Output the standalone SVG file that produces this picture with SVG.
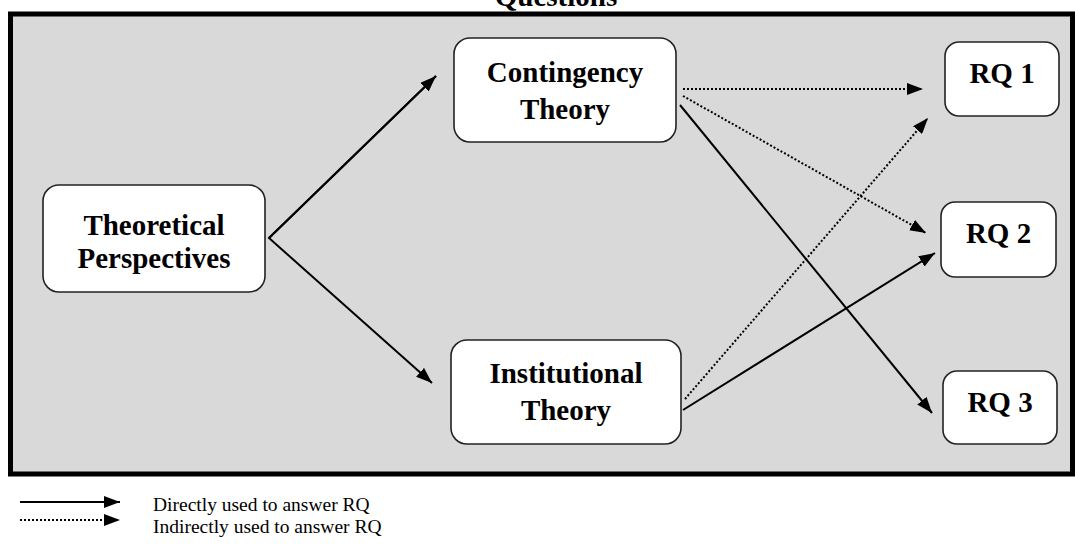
<svg xmlns="http://www.w3.org/2000/svg" width="1075" height="559" viewBox="0 0 1075 559">
  <style>
    .box { fill: #ffffff; stroke: #222222; stroke-width: 1.6; }
    .lbl { font-family: "Liberation Serif", "Times New Roman", serif; font-weight: bold; font-size: 29px; fill: #000000; text-anchor: middle; }
    .leg { font-family: "Liberation Serif", "Times New Roman", serif; font-size: 19.5px; fill: #000000; }
    .solid { stroke: #000000; stroke-width: 2; fill: none; }
    .dot { stroke: #000000; stroke-width: 2; fill: none; stroke-dasharray: 2 2; }
  </style>
  <defs>
    <marker id="head" viewBox="0 0 16 12" refX="16" refY="6" markerWidth="16" markerHeight="12" markerUnits="userSpaceOnUse" orient="auto">
      <path d="M0,0 L16,6 L0,12 Z" fill="#000000"/>
    </marker>
  </defs>

  <rect width="1075" height="559" fill="#ffffff"/>

  <!-- title, clipped at the top edge -->
  <text class="lbl" x="556" y="6">Questions</text>

  <!-- grey frame -->
  <rect x="10.5" y="14" width="1062" height="460" fill="#d9d9d9" stroke="#000000" stroke-width="5"/>

  <!-- connectors -->
  <g id="connectors">
    <polyline class="solid" points="436,76 269,238 432,383" marker-end="url(#head)"/>
    <path class="solid" d="M269,238 L436,76" marker-end="url(#head)"/>
    <path class="dot" d="M683,89 L923,89" marker-end="url(#head)"/>
    <path class="dot" d="M683,96 L926,233" marker-end="url(#head)"/>
    <path class="solid" d="M680,105 L932,413" marker-end="url(#head)"/>
    <path class="dot" d="M685,399 L928,118" marker-end="url(#head)"/>
    <path class="solid" d="M683,410 L935,253" marker-end="url(#head)"/>
  </g>

  <g id="theoretical-perspectives">
    <rect class="box" x="43" y="185" width="222" height="107" rx="16"/>
    <text class="lbl" x="154" y="235">Theoretical</text>
    <text class="lbl" x="154" y="268">Perspectives</text>
  </g>

  <g id="contingency-theory">
    <rect class="box" x="454" y="38" width="222" height="104" rx="16"/>
    <text class="lbl" x="565" y="82">Contingency</text>
    <text class="lbl" x="565" y="119">Theory</text>
  </g>

  <g id="institutional-theory">
    <rect class="box" x="451" y="340" width="230" height="104" rx="16"/>
    <text class="lbl" x="566" y="383">Institutional</text>
    <text class="lbl" x="566" y="420">Theory</text>
  </g>

  <g id="rq1">
    <rect class="box" x="945" y="42" width="114" height="74" rx="14"/>
    <text class="lbl" x="1002" y="83">RQ 1</text>
  </g>

  <g id="rq2">
    <rect class="box" x="941" y="202" width="115" height="75" rx="14"/>
    <text class="lbl" x="998.5" y="243">RQ 2</text>
  </g>

  <g id="rq3">
    <rect class="box" x="943" y="371" width="114" height="73" rx="14"/>
    <text class="lbl" x="1000" y="412">RQ 3</text>
  </g>

  <!-- legend -->
  <g id="legend">
    <path class="solid" d="M20,502 L120,502" marker-end="url(#head)"/>
    <path class="dot" d="M20,520 L120,520" stroke-width="1.5" stroke-dasharray="1.5 1.5" marker-end="url(#head)"/>
    <text class="leg" x="153" y="511">Directly used to answer RQ</text>
    <text class="leg" x="153" y="533">Indirectly used to answer RQ</text>
  </g>
</svg>
